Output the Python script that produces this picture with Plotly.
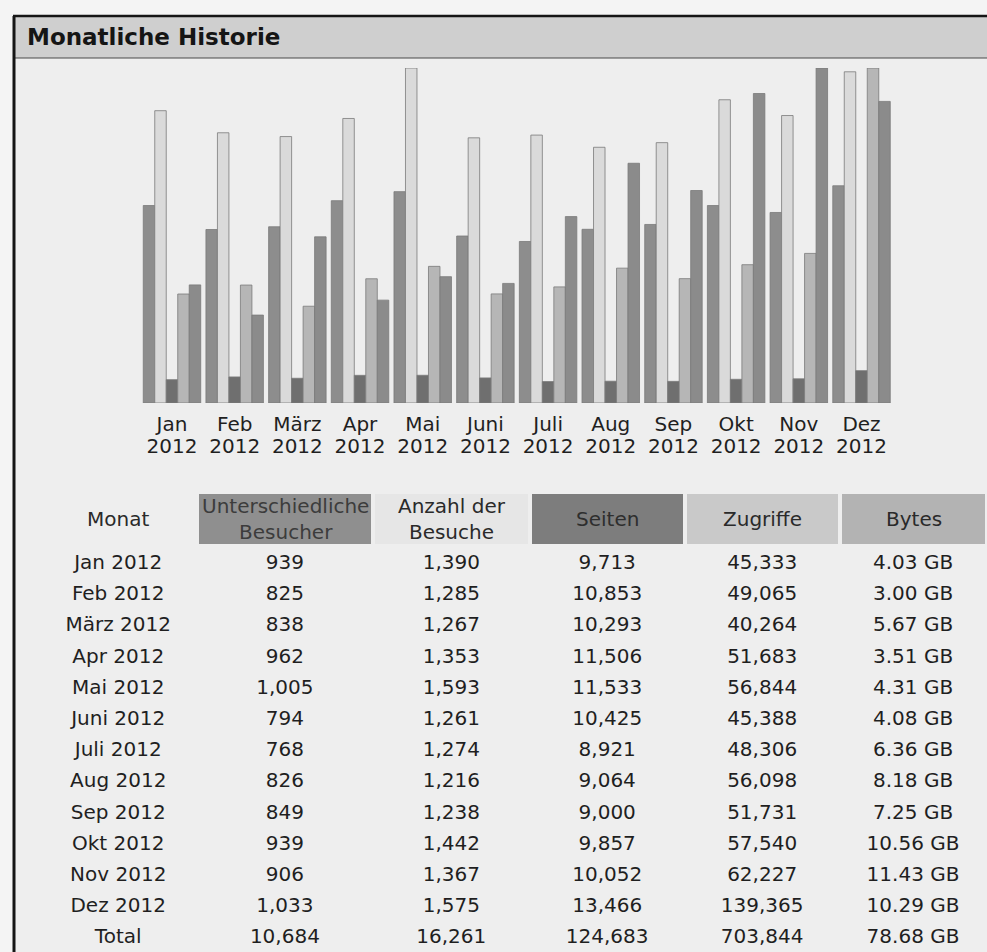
import plotly.graph_objects as go

# ---------------- data ----------------
months = ['Jan', 'Feb', 'März', 'Apr', 'Mai', 'Juni', 'Juli', 'Aug', 'Sep', 'Okt', 'Nov', 'Dez']
year = '2012'
visitors = [939, 825, 838, 962, 1005, 794, 768, 826, 849, 939, 906, 1033]
visits = [1390, 1285, 1267, 1353, 1593, 1261, 1274, 1216, 1238, 1442, 1367, 1575]
pages = [9713, 10853, 10293, 11506, 11533, 10425, 8921, 9064, 9000, 9857, 10052, 13466]
hits = [45333, 49065, 40264, 51683, 56844, 45388, 48306, 56098, 51731, 57540, 62227, 139365]
bytes_gb = [4.03, 3.00, 5.67, 3.51, 4.31, 4.08, 6.36, 8.18, 7.25, 10.56, 11.43, 10.29]
totals = ['Total', '10,684', '16,261', '124,683', '703,844', '78.68 GB']
headers = ['Monat', 'Unterschiedliche<br>Besucher', 'Anzahl der<br>Besuche', 'Seiten', 'Zugriffe', 'Bytes']
title = 'Monatliche Historie'

# ---------------- layout helpers ----------------
W, H = 987, 952
FONT = 'Verdana, DejaVu Sans, sans-serif'
BG = '#eeeeee'
TXT = '#1f1f1f'


def px(x):
    return x / W


def py(y):
    return 1 - y / H


fig = go.Figure()

idx = list(range(len(months)))
bw = 0.1834
series = [
    (visitors, 'x', 'y', '#8d8d8d'),
    (visits, 'x', 'y', '#dadada'),
    (pages, 'x', 'y2', '#6f6f6f'),
    (hits, 'x', 'y2', '#b6b6b6'),
    (bytes_gb, 'x2', 'y3', '#8b8b8b'),
]
for i, (vals, xa, ya, col) in enumerate(series):
    fig.add_trace(go.Bar(
        x=idx, y=vals, xaxis=xa, yaxis=ya,
        width=bw, offset=-0.4585 + i * bw,
        marker=dict(color=col, line=dict(color='#7a7a7a', width=0.8)),
        showlegend=False, hoverinfo='skip',
    ))

# ---------------- table ----------------
col_month = [f'{m} {year}' for m in months] + [totals[0]]
col_vis = [f'{v:,}' for v in visitors] + [totals[1]]
col_visits = [f'{v:,}' for v in visits] + [totals[2]]
col_pages = [f'{v:,}' for v in pages] + [totals[3]]
col_hits = [f'{v:,}' for v in hits] + [totals[4]]
col_bytes = [f'{v:.2f} GB' for v in bytes_gb] + [totals[5]]

tab_x0, tab_x1 = 39.5, 987.0
colw = [157.5, 176, 157, 155, 155, 147]
head_top, head_h = 492, 54
head_fill = [BG, '#8f8f8f', '#e6e6e6', '#7d7d7d', '#c9c9c9', '#b3b3b3']
head_txt = ['#2a2a2a', '#3c3c3c', '#2a2a2a', '#2e2e2e', '#2a2a2a', '#2a2a2a']

fig.add_trace(go.Table(
    domain=dict(x=[px(tab_x0), px(tab_x1)], y=[0.0, py(head_top)]),
    columnwidth=colw,
    header=dict(
        values=[''] * len(headers),
        fill_color=head_fill,
        line=dict(color=BG, width=4),
        height=head_h,
    ),
    cells=dict(
        values=[col_month, col_vis, col_visits, col_pages, col_hits, col_bytes],
        fill_color=BG,
        line=dict(color=BG, width=1),
        height=31.2,
        align='center',
        font=dict(family=FONT, size=20, color=TXT),
    ),
))

# header labels, centred in the table's header cells
annotations = [dict(
    text=f'<b>{title}</b>', xref='paper', yref='paper', x=px(25), y=py(37),
    xanchor='left', yanchor='middle', showarrow=False,
    font=dict(family=FONT, size=23, color='#151515'),
)]
scale = (tab_x1 - tab_x0) / sum(colw)
left = tab_x0
for hdr, w, c in zip(headers, colw, head_txt):
    cx = left + w * scale / 2
    left += w * scale
    annotations.append(dict(
        text=hdr, xref='paper', yref='paper', x=px(cx), y=py(head_top + head_h / 2),
        xanchor='center', yanchor='middle', showarrow=False, align='center',
        font=dict(family=FONT, size=20, color=c),
    ))

# ---------------- decorations ----------------
shapes = [
    dict(type='rect', xref='paper', yref='paper', x0=px(14), x1=1.0, y0=0, y1=py(16),
         fillcolor=BG, line=dict(width=0), layer='below'),
    dict(type='rect', xref='paper', yref='paper', x0=px(14), x1=1.0, y0=py(58), y1=py(16),
         fillcolor='#cfcfcf', line=dict(width=0), layer='below'),
    dict(type='line', xref='paper', yref='paper', x0=px(13), x1=1.0, y0=py(16), y1=py(16),
         line=dict(color='#151515', width=2.5)),
    dict(type='line', xref='paper', yref='paper', x0=px(14), x1=1.0, y0=py(58), y1=py(58),
         line=dict(color='#4a4a4a', width=1.2)),
    dict(type='line', xref='paper', yref='paper', x0=px(14), x1=px(14), y0=0, y1=py(16),
         line=dict(color='#151515', width=3)),
]

axis_common = dict(
    range=[-0.5, 11.5], tickvals=idx, showgrid=False, zeroline=False, showline=False,
    ticks='', tickfont=dict(family=FONT, size=20, color=TXT), fixedrange=True,
)

fig.update_layout(
    width=W, height=H,
    margin=dict(l=0, r=0, t=0, b=0),
    paper_bgcolor='#f4f4f4',
    plot_bgcolor='rgba(0,0,0,0)',
    barmode='overlay',
    shapes=shapes,
    annotations=annotations,
    font=dict(family=FONT, color=TXT),
    xaxis=dict(domain=[px(140.65), px(892.85)], ticktext=months, ticklabelstandoff=7,
               anchor='y', **axis_common),
    xaxis2=dict(overlaying='x', ticktext=[year] * len(months), ticklabelstandoff=29,
                anchor='y', side='bottom', **axis_common),
    yaxis=dict(domain=[py(403), py(68)], range=[0, max(visits)], visible=False, fixedrange=True),
    yaxis2=dict(overlaying='y', range=[0, max(hits)], visible=False),
    yaxis3=dict(overlaying='y', range=[0, max(bytes_gb)], visible=False, anchor='x2'),
)

fig.write_html('out.html', config={'displayModeBar': False},
               post_script="document.body.style.margin='0px';")
